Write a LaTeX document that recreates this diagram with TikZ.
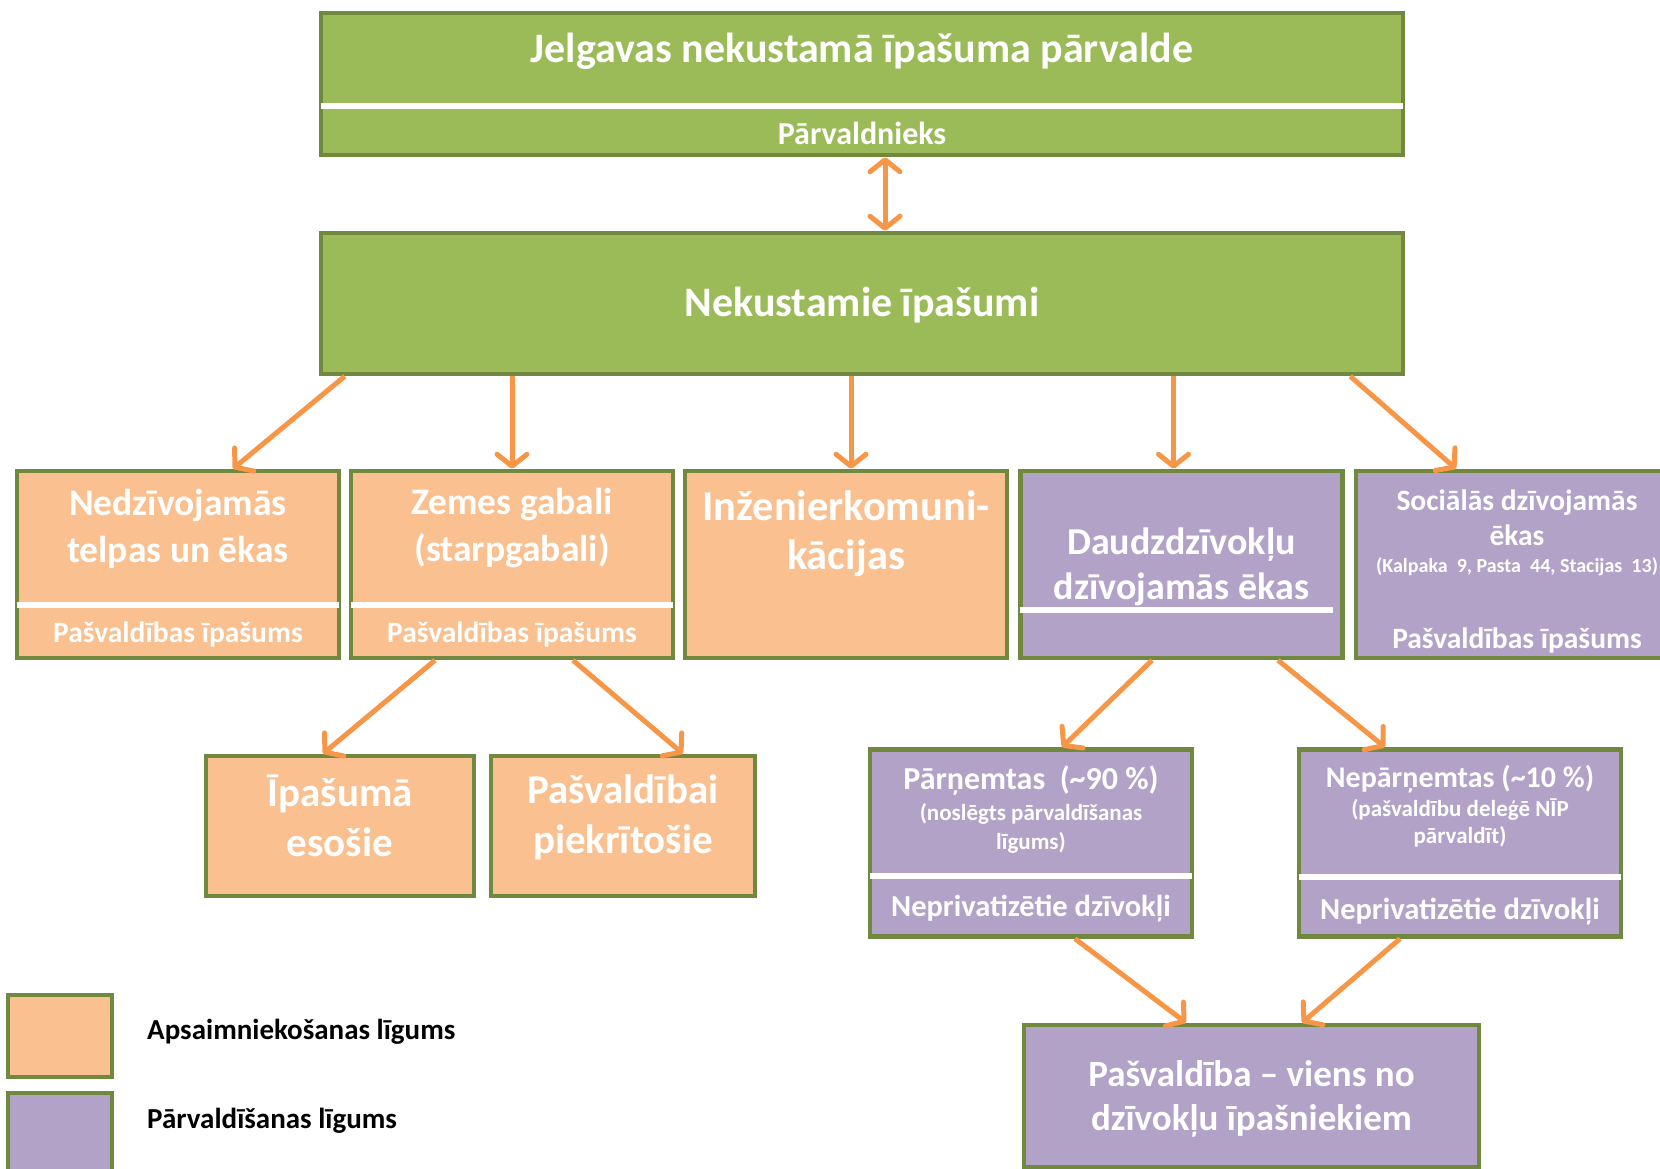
\documentclass[tikz,border=0pt]{standalone}
\usepackage{fontspec}
\setmainfont{Carlito}
\usetikzlibrary{arrows.meta}
\definecolor{fillgreen}{HTML}{9BBB59}
\definecolor{linegreen}{HTML}{71893F}
\definecolor{fillorange}{HTML}{FAC090}
\definecolor{fillpurple}{HTML}{B3A2C7}
\definecolor{arroworange}{HTML}{F79646}
\tikzset{
    >={Straight Barb[length=12pt,width=30pt,round]},
    nip/.style={
        x=1pt,y=-1pt,
        box/.append style={draw=linegreen,line width=4.5pt,inner sep=0pt,minimum width=322pt,minimum height=187pt},
        gbox/.append style={box,fill=fillgreen},
        obox/.append style={box,fill=fillorange},
        pbox/.append style={box,fill=fillpurple},
        sep/.append style={draw=white,line width=6pt,shorten <=2pt,shorten >=2pt},
        arr/.append style={draw=arroworange,line width=5pt,->},
        txt/.style args={##1/##2}{text=white,align=center,inner sep=0pt,font=\fontsize{##1}{##2}\selectfont\bfseries},
        legtxt/.append style={anchor=west,inner sep=0pt,font=\fontsize{29}{34}\selectfont\bfseries}
    }
}

\begin{document}
\begin{tikzpicture}[nip]
    \useasboundingbox (0,0) rectangle (1660,1169);
    \clip (0,0) rectangle (1660,1169);
    % boxes
    \node[gbox,minimum width=1082pt,minimum height=142pt] (npp) at (862,84) {};
    \node[gbox,minimum width=1082pt,minimum height=141pt] (nek) at (862,303.5) {};
    \node[obox] (nedz) at (178,564.5) {};
    \node[obox] (zeme) at (512,564.5) {};
    \node[obox] (inz) at (846,564.5) {};
    \node[pbox] (daudz) at (1181.5,564.5) {};
    \node[pbox] (soc) at (1517,564.5) {};
    \node[obox,minimum width=268pt,minimum height=140pt] (ipas) at (340,826) {};
    \node[obox,minimum width=264pt,minimum height=140pt] (piekr) at (623,826) {};
    \node[pbox] (parn) at (1031,843) {};
    \node[pbox] (nepar) at (1460,843) {};
    \node[pbox,minimum width=455pt,minimum height=142pt] (pasv) at (1251.5,1096) {};
    \node[obox,minimum width=104pt,minimum height=82pt] (legA) at (60,1036) {};
    \node[pbox,minimum width=104pt,minimum height=82pt] (legP) at (60,1134) {};

    % white separators
    \path[sep] (npp.west |- 0,106) -- (npp.east |- 0,106);
    \path[sep] (nedz.west |- 0,605) -- (nedz.east |- 0,605);
    \path[sep] (zeme.west |- 0,605) -- (zeme.east |- 0,605);
    \path[sep] (daudz.west |- 0,610) -- (1335,610);
    \path[sep] (parn.west |- 0,875.5) -- (parn.east |- 0,875.5);
    \path[sep] (nepar.west |- 0,876.5) -- (nepar.east |- 0,876.5);

    % texts
    \node[txt=42/50] (npp-t) at (862,51) {Jelgavas nekustamā īpašuma pārvalde};
    \node[txt=32/38] (npp-s) at (862,133) {Pārvaldnieks};
    \node[txt=42/50] (nek-t) at (862,305) {Nekustamie īpašumi};
    \node[txt=37.5/47] (nedz-t) at (178,529) {Nedzīvojamās\\telpas un ēkas};
    \node[txt=29.5/34] (nedz-s) at (178,634) {Pašvaldības īpašums};
    \node[txt=37.5/47] (zeme-t) at (512,528) {Zemes gabali\\(starpgabali)};
    \node[txt=29.5/34] (zeme-s) at (512,634) {Pašvaldības īpašums};
    \node[txt=42.5/49] (inz-t) at (846,533.5) {Inženierkomuni-\\kācijas};
    \node[txt=38/45] (daudz-t) at (1181.5,567) {Daudzdzīvokļu\\dzīvojamās ēkas};
    \node[txt=29.5/35] (soc-t) at (1517,517.5) {Sociālās dzīvojamās\\ēkas};
    \node[txt=20/24] (soc-a) at (1517,567) {(Kalpaka~ 9, Pasta~ 44, Stacijas~ 13)};
    \node[txt=29.5/34] (soc-s) at (1517,640) {Pašvaldības īpašums};
    \node[txt=41/50] (ipas-t) at (340,816) {Īpašumā\\esošie};
    \node[txt=41/50] (piekr-t) at (623,817) {Pašvaldībai\\piekrītošie};
    \node[txt=32/38] (parn-t) at (1031,781) {Pārņemtas~ (\textasciitilde 90 \%)};
    \node[txt=23/29] (parn-a) at (1031,828) {(noslēgts pārvaldīšanas\\līgums)};
    \node[txt=30.5/36] (parn-s) at (1031,909) {Neprivatizētie dzīvokļi};
    \node[txt=30/38] (nepar-t) at (1460,779) {Nepārņemtas (\textasciitilde 10 \%)};
    \node[txt=23/27] (nepar-a) at (1460,823) {(pašvaldību deleģē NĪP\\pārvaldīt)};
    \node[txt=30.5/36] (nepar-s) at (1460,912) {Neprivatizētie dzīvokļi};
    \node[txt=37/44] (pasv-t) at (1251.5,1099) {Pašvaldība – viens no\\dzīvokļu īpašniekiem};
    \node[legtxt] (legA-t) at (147,1032) {Apsaimniekošanas līgums};
    \node[legtxt] (legP-t) at (147,1121) {Pārvaldīšanas līgums};

    % arrows
    \draw[arr,<->] ([xshift=23pt]npp.south) -- ([xshift=23pt]nek.north);
    \draw[arr] ([xshift=26pt]nek.south west) -- ([xshift=55pt]nedz.north);
    \draw[arr] (nek.south -| zeme.north) -- (zeme.north);
    \draw[arr] ([xshift=5pt]nek.south -| inz.north) -- ([xshift=5pt]inz.north);
    \draw[arr] ([xshift=-8pt]nek.south -| daudz.north) -- ([xshift=-8pt]daudz.north);
    \draw[arr] ([xshift=-55pt]nek.south east) -- ([xshift=-61pt]soc.north);
    \draw[arr] ([xshift=-77pt]zeme.south) -- ([xshift=-17pt]ipas.north);
    \draw[arr] ([xshift=61pt]zeme.south) -- ([xshift=60pt]piekr.north);
    \draw[arr] ([xshift=-29.5pt]daudz.south) -- ([xshift=31pt]parn.north);
    \draw[arr] ([xshift=96.5pt]daudz.south) -- ([xshift=-75pt]nepar.north);
    \draw[arr] ([xshift=44pt]parn.south) -- ([xshift=-65.5pt]pasv.north);
    \draw[arr] ([xshift=-60pt]nepar.south) -- ([xshift=50.5pt]pasv.north);
\end{tikzpicture}
\end{document}
